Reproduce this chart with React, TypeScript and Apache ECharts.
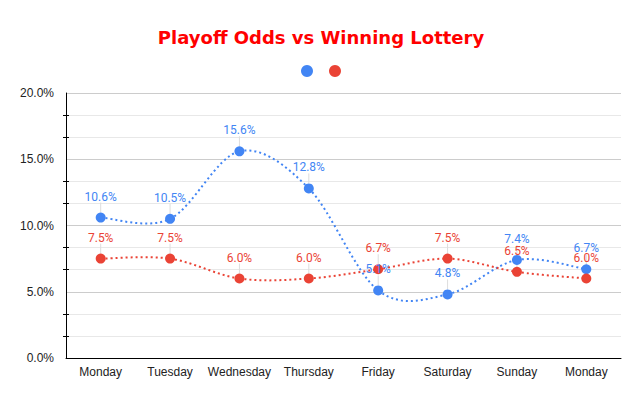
import React, { useEffect, useRef } from "react";
import * as echarts from "echarts";

const categories = ["Monday", "Tuesday", "Wednesday", "Thursday", "Friday", "Saturday", "Sunday", "Monday"];
const playoffOdds = [10.6, 10.5, 15.6, 12.8, 5.1, 4.8, 7.4, 6.7];
const winningLottery = [7.5, 7.5, 6.0, 6.0, 6.7, 7.5, 6.5, 6.0];
const seriesNames = ["Playoff Odds", "Winning Lottery"];
const colors = ["#4285F4", "#EA4335"];

export default function App() {
  const ref = useRef<HTMLDivElement>(null);
  useEffect(() => {
    document.body.style.margin = "0";
    const chart = echarts.init(ref.current!, null, { renderer: "svg" });

    const mkCurve = (values: number[], color: string) => ({
      type: "custom",
      data: values.map((v, i) => [i, v]),
      encode: { x: 0, y: 1 },
      silent: true,
      z: 1,
      renderItem: (params: any, api: any) => {
        const i = params.dataIndex;
        const n = values.length;
        if (i >= n - 1) return { type: "group", children: [] };
        const p = (k: number) => {
          const kk = Math.max(0, Math.min(n - 1, k));
          return api.coord([kk, values[kk]]);
        };
        const p0 = p(i - 1), p1 = p(i), p2 = p(i + 1), p3 = p(i + 2);
        return {
          type: "bezierCurve",
          shape: {
            x1: p1[0], y1: p1[1],
            x2: p2[0], y2: p2[1],
            cpx1: p1[0] + (p2[0] - p0[0]) / 6,
            cpy1: p1[1] + (p2[1] - p0[1]) / 6,
            cpx2: p2[0] - (p3[0] - p1[0]) / 6,
            cpy2: p2[1] - (p3[1] - p1[1]) / 6,
          },
          style: { stroke: color, lineWidth: 2, fill: "none", lineDash: [2, 3] },
        };
      },
    });

    const mkSeries = (name: string, data: number[], color: string) => ({
      name,
      type: "line",
      data,
      z: 3,
      symbol: "circle",
      symbolSize: 10,
      itemStyle: { color },
      lineStyle: { color, width: 0, opacity: 0 },
      label: {
        show: true,
        position: "top",
        distance: 4,
        color,
        fontSize: 12,
        fontFamily: "Roboto, Arial, sans-serif",
        formatter: (p: any) => p.value.toFixed(1) + "%",
      },
      labelLayout: { dy: -6 },
      labelLine: { show: true, lineStyle: { color: "#dddddd", width: 1 } },
    });

    chart.setOption({
      animation: false,
      backgroundColor: "#ffffff",
      color: colors,
      title: {
        text: "Playoff Odds vs Winning Lottery",
        left: "center",
        top: 23,
        textStyle: {
          color: "#ff0000",
          fontSize: 18,
          fontWeight: "bold",
          fontFamily: "'Comic Sans MS', 'DejaVu Sans', sans-serif",
        },
      },
      legend: {
        top: 60,
        left: "center",
        icon: "circle",
        itemWidth: 12,
        itemHeight: 12,
        itemGap: 16,
        formatter: () => "",
        data: seriesNames,
      },
      grid: { left: 66, top: 93, width: 555, height: 265, containLabel: false },
      xAxis: {
        type: "category",
        data: categories,
        boundaryGap: true,
        axisLine: { lineStyle: { color: "#000000", width: 1 } },
        axisTick: { show: false },
        axisLabel: {
          interval: 0,
          color: "#222222",
          fontSize: 12,
          fontFamily: "Arial, 'Liberation Sans', sans-serif",
          margin: 8,
        },
      },
      yAxis: [
        {
          type: "value",
          min: 0,
          max: 20,
          interval: 5,
          axisLine: { show: true, lineStyle: { color: "#000000", width: 1 } },
          axisTick: { show: false },
          minorTick: { show: true, splitNumber: 3, length: 3, lineStyle: { color: "#000000", width: 1 } },
          splitLine: { show: true, lineStyle: { color: "#cccccc", width: 1 } },
          minorSplitLine: { show: true, lineStyle: { color: "#e8e8e8", width: 1 } },
          axisLabel: {
            color: "#222222",
            fontSize: 12,
            fontFamily: "Arial, 'Liberation Sans', sans-serif",
            margin: 12,
            formatter: (v: number) => v.toFixed(1) + "%",
          },
        },
        {
          type: "value",
          position: "left",
          min: 0,
          max: 20,
          interval: 5,
          axisLine: { show: false },
          axisTick: { show: false, inside: true },
          minorTick: { show: true, splitNumber: 3, length: 3, lineStyle: { color: "#000000", width: 1 } },
          splitLine: { show: false },
          minorSplitLine: { show: false },
          axisLabel: { show: false },
        },
      ],
      series: [
        mkCurve(playoffOdds, colors[0]),
        mkCurve(winningLottery, colors[1]),
        mkSeries(seriesNames[0], playoffOdds, colors[0]),
        mkSeries(seriesNames[1], winningLottery, colors[1]),
      ],
    });
    return () => chart.dispose();
  }, []);
  return <div ref={ref} style={{ width: 642, height: 398 }} />;
}
